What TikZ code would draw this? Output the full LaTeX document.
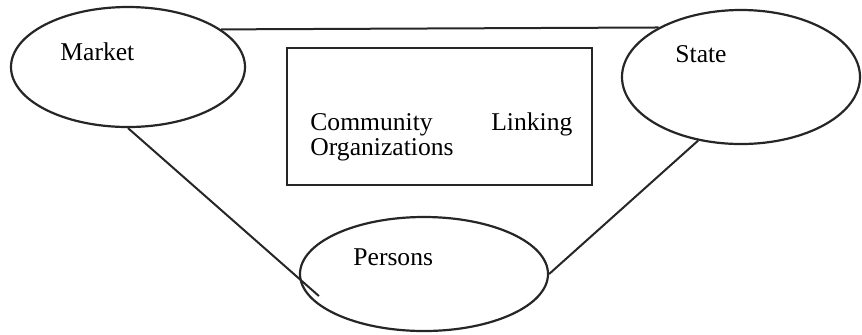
\documentclass[tikz,border=0pt]{standalone}
\usepackage{fontspec}
\setmainfont{Liberation Serif}
\usetikzlibrary{shapes.geometric,calc}

\begin{document}
\begin{tikzpicture}[x=0.5pt,y=-0.5pt,
  sector/.style={ellipse,draw=black!85,line width=1.1pt,inner sep=0pt},
  tag/.style={anchor=base west,inner sep=0pt,font=\fontsize{12.8}{12.5}\selectfont},
  link/.style={draw=black!85,line width=1pt}]
\useasboundingbox (0,0) rectangle (862,334);

% the three sectors and the box between them
\node[sector,minimum width=117pt,minimum height=60pt] (market) at (128,67) {};
\node[sector,minimum width=119pt,minimum height=67pt] (state) at (741,77) {};
\node[sector,minimum width=124pt,minimum height=57pt] (persons) at (424,274) {};
\node[draw=black!85,line width=1pt,inner sep=0pt,
  minimum width=152.5pt,minimum height=68.5pt] (linking) at (439.5,116.5) {};

\node[tag] (marketlabel) at (60,60) {Market};
\node[tag] (statelabel) at (675,62) {State};
\node[tag] (personslabel) at (353,265) {Persons};
\node[tag,text width=131pt,align=left] (linkinglabel) at (310,130)
  {Community\hfill Linking\\Organizations};

% connecting lines
\coordinate (overshoot) at ($(persons.west)+(20,22)$);
\draw[link] (market.22) -- (state.149);
\draw[link] (market.south) -- (overshoot);
\draw[link] (state.236) -- (persons.east);
\end{tikzpicture}
\end{document}
